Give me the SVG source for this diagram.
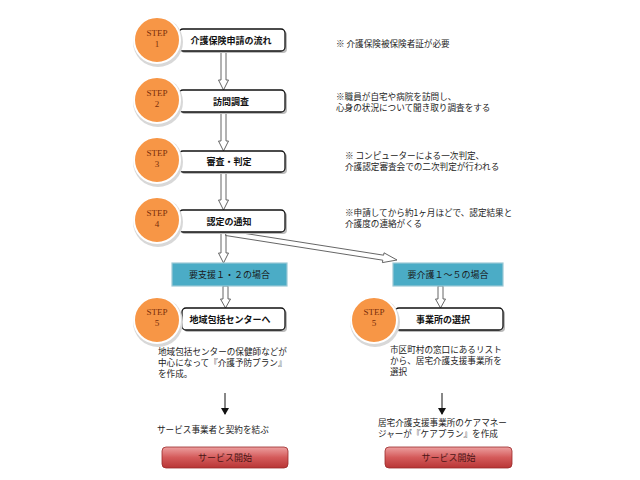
<svg xmlns="http://www.w3.org/2000/svg" width="640" height="480" viewBox="0 0 640 480">
<defs>
<style>
text{font-family:"Noto Sans CJK JP","Noto Sans",sans-serif;fill:#222;}
.box{fill:#fff;stroke:#111;stroke-width:1.3;}
.shadow{fill:#bbb;}
.boxt{font-size:9px;font-weight:bold;text-anchor:middle;fill:#111;}
.circ{fill:#f79646;stroke:#fff;stroke-width:2;}
.cshadow{fill:#d8d8d8;}
.step{font-family:"Liberation Serif","DejaVu Serif",serif;font-size:9px;text-anchor:middle;fill:#7a2e0a;}
.note{font-size:8.6px;}
.blue{fill:#4bacc6;stroke:#9cc9d6;stroke-width:1.2;}
.bluet{font-size:9px;text-anchor:middle;fill:#1a1a1a;}
.hollow{fill:#fff;stroke:#555;stroke-width:0.9;}
.thin{stroke:#111;stroke-width:1;fill:none;}
.red{fill:url(#rg);stroke:#9a2a2a;stroke-width:0.8;}
.redt{font-size:9px;text-anchor:middle;fill:#4a1515;}
</style>
<linearGradient id="rg" x1="0" y1="0" x2="0" y2="1">
<stop offset="0" stop-color="#eda0a0"/>
<stop offset="0.5" stop-color="#d45a5a"/>
<stop offset="1" stop-color="#b83535"/>
</linearGradient>
<marker id="ah" markerWidth="8" markerHeight="8" refX="6" refY="4" orient="auto" markerUnits="userSpaceOnUse">
<path d="M0,0 L7,4 L0,8 Z" fill="#111"/>
</marker>
</defs>
<rect width="640" height="480" fill="#fff"/>

<g id="connectors">
<polygon class="hollow" points="221,51 226,51 226,80 228.5,80 223.5,90 218.5,80 221,80"/>
<polygon class="hollow" points="221,112 226,112 226,141 228.5,141 223.5,151 218.5,141 221,141"/>
<polygon class="hollow" points="221,172 226,172 226,200 228.5,200 223.5,210 218.5,200 221,200"/>
<polygon class="hollow" points="221,232 226,232 226,253 228.5,253 223.5,263 218.5,253 221,253"/>
<polygon class="hollow" points="225.6,235.5 226.4,230.5 383.6,255.2 384.0,252.8 397,260 382.4,262.6 382.8,260.2"/>
<polygon class="hollow" points="223,286 228,286 228,299 230.5,299 225.5,308 220.5,299 223,299"/>
<polygon class="hollow" points="438,286 443,286 443,299 445.5,299 440.5,308 435.5,299 438,299"/>
<line class="thin" x1="225" y1="393" x2="225" y2="414" marker-end="url(#ah)"/>
<line class="thin" x1="442" y1="393" x2="442" y2="414" marker-end="url(#ah)"/>
</g>

<g id="step1">
<rect class="shadow" x="181" y="31" width="106" height="22" rx="4"/>
<rect class="box" x="179" y="29" width="106" height="22" rx="4"/>
<text class="boxt" x="231" y="43.5">介護保険申請の流れ</text>
<circle class="cshadow" cx="158" cy="42" r="25"/>
<circle class="circ" cx="157" cy="40" r="23"/>
<text class="step" x="157" y="36">STEP</text>
<text class="step" x="157" y="47">1</text>
</g>

<g id="step2">
<rect class="shadow" x="181" y="92" width="106" height="22" rx="4"/>
<rect class="box" x="179" y="90" width="106" height="22" rx="4"/>
<text class="boxt" x="231" y="104.5">訪問調査</text>
<circle class="cshadow" cx="158" cy="102" r="25"/>
<circle class="circ" cx="157" cy="100" r="23"/>
<text class="step" x="157" y="96">STEP</text>
<text class="step" x="157" y="107">2</text>
</g>

<g id="step3">
<rect class="shadow" x="181" y="153" width="106" height="21" rx="4"/>
<rect class="box" x="179" y="151" width="106" height="21" rx="4"/>
<text class="boxt" x="229" y="165">審査・判定</text>
<circle class="cshadow" cx="158" cy="162" r="25"/>
<circle class="circ" cx="157" cy="160" r="23"/>
<text class="step" x="157" y="156">STEP</text>
<text class="step" x="157" y="167">3</text>
</g>

<g id="step4">
<rect class="shadow" x="181" y="212" width="106" height="22" rx="4"/>
<rect class="box" x="179" y="210" width="106" height="22" rx="4"/>
<text class="boxt" x="229" y="224.5">認定の通知</text>
<circle class="cshadow" cx="158" cy="222" r="25"/>
<circle class="circ" cx="157" cy="220" r="23"/>
<text class="step" x="157" y="216">STEP</text>
<text class="step" x="157" y="227">4</text>
</g>

<g id="notes">
<text class="note" x="336" y="47">※ 介護保険被保険者証が必要</text>
<text class="note" x="336" y="100">※職員が自宅や病院を訪問し、</text>
<text class="note" x="336" y="111">心身の状況について聞き取り調査をする</text>
<text class="note" x="345" y="159">※ コンピューターによる一次判定、</text>
<text class="note" x="345" y="170">介護認定審査会での二次判定が行われる</text>
<text class="note" x="345" y="216">※申請してから約1ヶ月ほどで、認定結果と</text>
<text class="note" x="345" y="227">介護度の連絡がくる</text>
</g>

<g id="support12">
<rect class="blue" x="172" y="263" width="115" height="23"/>
<text class="bluet" x="229.5" y="278">要支援１・２の場合</text>
</g>

<g id="care15">
<rect class="blue" x="393" y="263" width="110" height="23"/>
<text class="bluet" x="448" y="278">要介護１～５の場合</text>
</g>

<g id="step5-left">
<rect class="shadow" x="184" y="310" width="103" height="22" rx="4"/>
<rect class="box" x="182" y="308" width="103" height="22" rx="4"/>
<text class="boxt" x="230" y="322.5">地域包括センターへ</text>
<circle class="cshadow" cx="158" cy="322" r="25"/>
<circle class="circ" cx="157" cy="320" r="23"/>
<text class="step" x="157" y="315">STEP</text>
<text class="step" x="157" y="326">5</text>
<text class="note" x="158" y="355">地域包括センターの保健師などが</text>
<text class="note" x="158" y="366">中心になって『介護予防プラン』</text>
<text class="note" x="158" y="377">を作成。</text>
</g>

<g id="step5-right">
<rect class="shadow" x="397" y="310" width="108" height="22" rx="4"/>
<rect class="box" x="395" y="308" width="108" height="22" rx="4"/>
<text class="boxt" x="443" y="322.5">事業所の選択</text>
<circle class="cshadow" cx="375" cy="322" r="25"/>
<circle class="circ" cx="374" cy="320" r="23"/>
<text class="step" x="374" y="315">STEP</text>
<text class="step" x="374" y="326">5</text>
<text class="note" x="390" y="353">市区町村の窓口にあるリスト</text>
<text class="note" x="390" y="364">から、居宅介護支援事業所を</text>
<text class="note" x="390" y="375">選択</text>
</g>

<g id="contract">
<text class="note" x="157" y="433">サービス事業者と契約を結ぶ</text>
</g>

<g id="careplan">
<text class="note" x="378" y="426">居宅介護支援事業所のケアマネー</text>
<text class="note" x="378" y="437">ジャーが『ケアプラン』を作成</text>
</g>

<g id="start-left">
<rect class="red" x="162" y="447" width="126" height="21" rx="4"/>
<text class="redt" x="225" y="460.5">サービス開始</text>
</g>

<g id="start-right">
<rect class="red" x="385" y="447" width="127" height="21" rx="4"/>
<text class="redt" x="448.5" y="460.5">サービス開始</text>
</g>
</svg>
